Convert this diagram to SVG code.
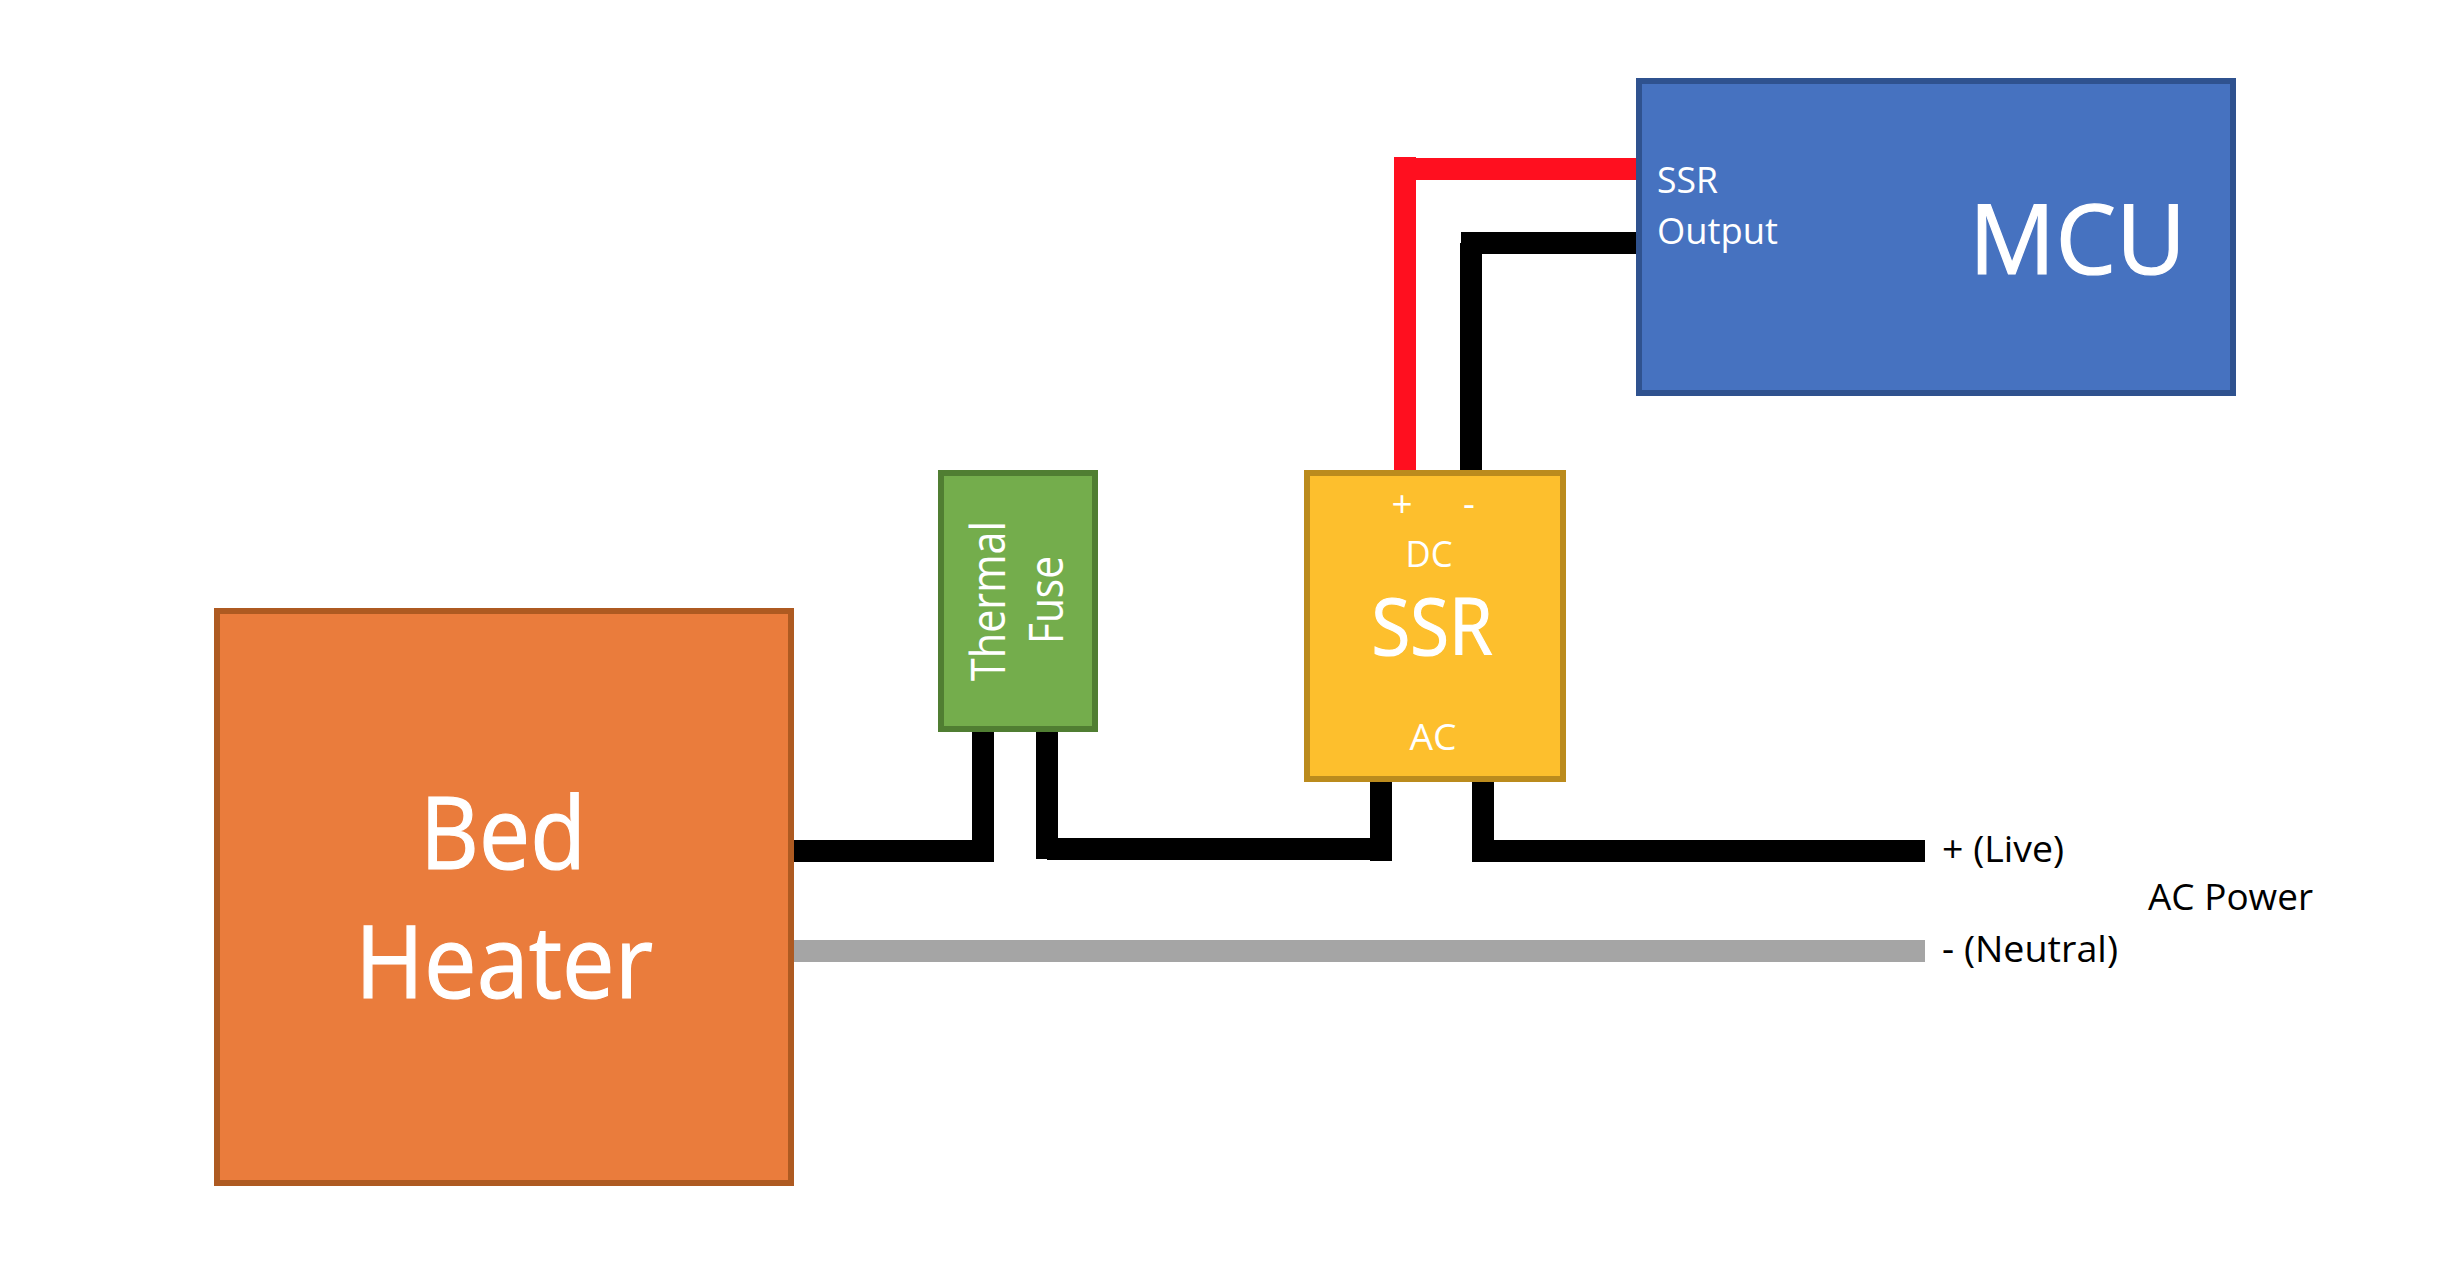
<svg xmlns="http://www.w3.org/2000/svg" width="2458" height="1276" viewBox="0 0 2458 1276">
<style>
text{font-family:"Open Sans","Noto Sans","Liberation Sans",sans-serif;fill:#fff}
.d{fill:#000}
.b{stroke:#fff;stroke-width:1.2px}
.box{stroke-width:6}
.w{fill:none;stroke-width:22;stroke-linecap:butt;stroke-linejoin:miter}
.k{stroke:#000}.r{stroke:#ff0f1f}.g{stroke:#a5a5a5}
</style>
<rect width="2458" height="1276" fill="#fff"/>
<g id="connectors">
<path class="w r" d="M1405 157V470"/>
<path class="w r" d="M1394 169H1636"/>
<path class="w k" d="M1471 243V470"/>
<path class="w k" d="M1461 243H1636"/>
<path class="w k" d="M794 851H990"/>
<path class="w k" d="M983 732V862"/>
<path class="w k" d="M1047 732V859"/>
<path class="w k" d="M1047 849H1392"/>
<path class="w k" d="M1381 782V861"/>
<path class="w k" d="M1483 782V862"/>
<path class="w k" d="M1472 851H1925"/>
<path class="w g" d="M794 951H1925"/>
</g>
<g id="bed-heater">
<rect class="box" x="217" y="611" width="574" height="572" fill="#ea7c3c" stroke="#ae5a21"/>
<text class="b" x="503" y="869" font-size="100" text-anchor="middle" textLength="166" lengthAdjust="spacingAndGlyphs">Bed</text>
<text class="b" x="504" y="998" font-size="100" text-anchor="middle" textLength="298" lengthAdjust="spacingAndGlyphs">Heater</text>
</g>
<g id="thermal-fuse">
<rect class="box" x="941" y="473" width="154" height="256" fill="#74ad4c" stroke="#507e32"/>
<text transform="translate(1005 681) rotate(-90)" font-size="47" textLength="160" lengthAdjust="spacingAndGlyphs">Thermal</text>
<text transform="translate(1063 644) rotate(-90)" font-size="47" textLength="88" lengthAdjust="spacingAndGlyphs">Fuse</text>
</g>
<g id="ssr">
<rect class="box" x="1307" y="473" width="256" height="306" fill="#fdbf2d" stroke="#bb8b1d"/>
<text x="1402" y="517" font-size="37" text-anchor="middle">+</text>
<text x="1469" y="517" font-size="37" text-anchor="middle">-</text>
<text x="1429" y="567" font-size="37" text-anchor="middle" textLength="47" lengthAdjust="spacingAndGlyphs">DC</text>
<text class="b" x="1432" y="655" font-size="78" text-anchor="middle" textLength="121" lengthAdjust="spacingAndGlyphs">SSR</text>
<text x="1433" y="750" font-size="37" text-anchor="middle" textLength="47" lengthAdjust="spacingAndGlyphs">AC</text>
</g>
<g id="mcu">
<rect class="box" x="1639" y="81" width="594" height="312" fill="#4672c0" stroke="#2f528f"/>
<text x="1657" y="193" font-size="37" textLength="61" lengthAdjust="spacingAndGlyphs">SSR</text>
<text x="1657" y="244" font-size="37" textLength="121" lengthAdjust="spacingAndGlyphs">Output</text>
<text class="b" x="1969" y="274" font-size="97" textLength="217" lengthAdjust="spacingAndGlyphs">MCU</text>
</g>
<g id="ac-power">
<text class="d" x="1942" y="862" font-size="37" textLength="122" lengthAdjust="spacingAndGlyphs">+ (Live)</text>
<text class="d" x="1942" y="962" font-size="37" textLength="176" lengthAdjust="spacingAndGlyphs">- (Neutral)</text>
<text class="d" x="2148" y="910" font-size="37" textLength="165" lengthAdjust="spacingAndGlyphs">AC Power</text>
</g>
</svg>
